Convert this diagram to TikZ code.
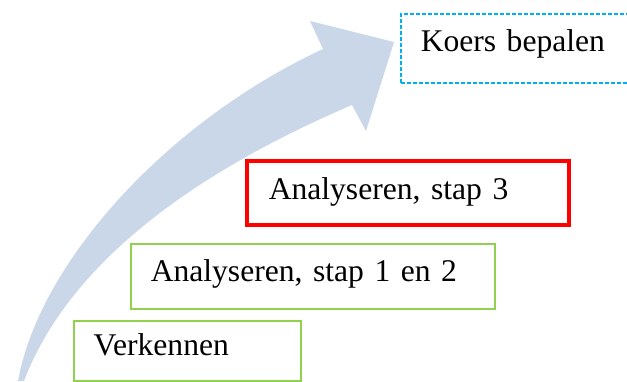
\documentclass[tikz,border=0pt]{standalone}
\usepackage{fontspec}
\setmainfont[WordSpace=0.8]{Liberation Serif}
\usetikzlibrary{positioning}

\definecolor{pijlblauw}{RGB}{202,215,232}
\definecolor{stapgroen}{RGB}{146,208,80}
\definecolor{koersblauw}{RGB}{0,176,240}

\tikzset{
  stap/.style={draw=stapgroen, line width=0.75pt, anchor=north west, align=left,
    inner xsep=10pt, text height=0.7em, text depth=0.22em},
}

\begin{document}
\begin{tikzpicture}[x=0.5pt,y=-0.5pt,font=\fontsize{15.8}{19}\selectfont]
        \clip (0,0) rectangle (627,381);

        % Arrow
        \coordinate (Staart) at (18,381);
        \coordinate (Hals) at (323,49);
        \coordinate (Punt) at (394,42);
        \fill[pijlblauw] (Staart) .. controls (40,260) and (170,120) .. (Hals)
              -- (310,21) -- (Punt) -- (366,131) -- (352,105)
              .. controls (200,170) and (70,260) .. (24,381) -- cycle;

        % Steps
        \node[stap, text width=93.5pt, minimum height=30pt, yshift=-0.5pt] (Verkennen) at (73,319) {Verkennen};
        \node[stap, text width=162pt, minimum height=32.5pt] (Stap12) at (130,243) {Analyseren, stap 1 en 2};
        \node[stap, draw=red, line width=1.75pt, text width=139pt, minimum height=32pt, inner xsep=11pt,
              text height=0.78em, text depth=0.14em] (Stap3) at (245,159) {Analyseren, stap 3};

        % Goal
        \node[stap, draw=koersblauw, dash pattern=on 2pt off 1pt, text width=110pt, minimum height=34.5pt,
              text height=0.6em, text depth=0.32em] (Koers) at (400,13) {Koers bepalen};
\end{tikzpicture}
\end{document}
